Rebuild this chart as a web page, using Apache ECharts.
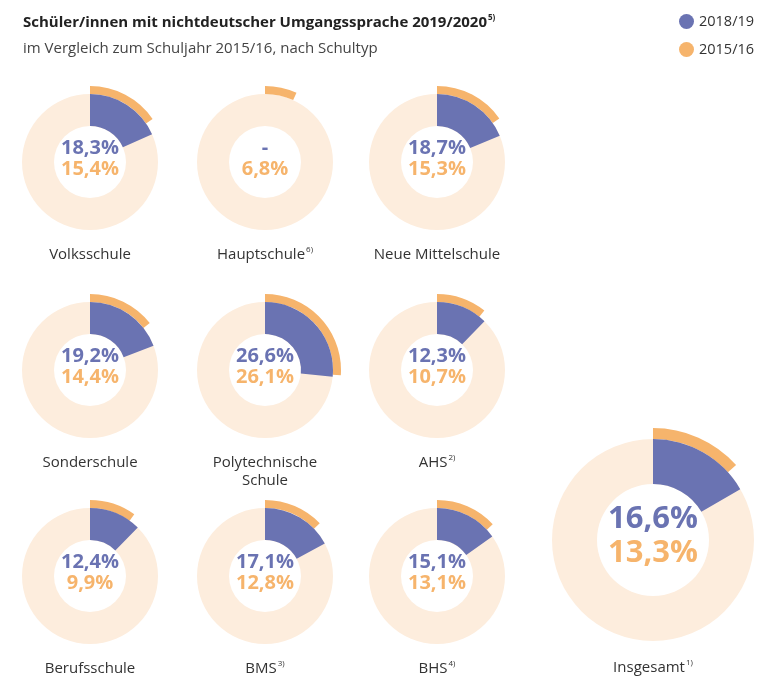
<!DOCTYPE html>
<html>
<head>
<meta charset="utf-8">
<script src="https://cdn.jsdelivr.net/npm/echarts@6/dist/echarts.min.js"></script>
<style>
html,body{margin:0;padding:0;background:#fff;}
#chart{width:760px;height:680px;}
</style>
</head>
<body>
<div id="chart"></div>
<script>
// ---- data ----
const categories = ['Volksschule', 'Hauptschule', 'Neue Mittelschule', 'Sonderschule', 'Polytechnische\nSchule', 'AHS', 'Berufsschule', 'BMS', 'BHS', 'Insgesamt'];
const footnotes = ['', '6)', '', '', '', '2)', '', '3)', '4)', '1)'];
const values2018 = [18.3, null, 18.7, 19.2, 26.6, 12.3, 12.4, 17.1, 15.1, 16.6];
const values2015 = [15.4, 6.8, 15.3, 14.4, 26.1, 10.7, 9.9, 12.8, 13.1, 13.3];
const seriesNames = ['2018/19', '2015/16'];
const titleText = 'Schüler/innen mit nichtdeutscher Umgangssprache 2019/2020';
const titleNote = '5)';
const subtitleText = 'im Vergleich zum Schuljahr 2015/16, nach Schultyp';

// ---- style / layout ----
const PURPLE = '#6A73B2';
const ORANGE = '#F6B46C';
const PEACH = '#FDEDDD';
const FONT = '"Open Sans", "Noto Sans", sans-serif';

const colX = [90, 265, 437];
const rowY = [162, 370, 576];
function layout(i) {
  if (i === 9) return { cx: 653, cy: 540, ri: 56, ro: 101, band: 11, fs: 31, lh: 34, big: true };
  return { cx: colX[i % 3], cy: rowY[Math.floor(i / 3)], ri: 36, ro: 68, band: 8, fs: 20, lh: 21, big: false };
}
function fmt(v) { return v == null ? '-' : v.toFixed(1).replace('.', ',') + '%'; }

const series = [];
const graphics = [];
categories.forEach((cat, i) => {
  const L = layout(i);
  const center = [L.cx, L.cy];
  // background ring with center label
  series.push({
    type: 'pie', silent: true, center, radius: [L.ri, L.ro], startAngle: 90,
    emphasis: { disabled: true },
    data: [{ value: 1, name: 'bg' + i, itemStyle: { color: PEACH } }],
    label: {
      show: true, position: 'center',
      formatter: '{a|' + fmt(values2018[i]) + '}\n{b|' + fmt(values2015[i]) + '}',
      rich: {
        a: { fontFamily: FONT, fontWeight: 'bold', fontSize: L.fs, color: PURPLE, lineHeight: L.lh },
        b: { fontFamily: FONT, fontWeight: 'bold', fontSize: L.fs, color: ORANGE, lineHeight: L.lh }
      },
      padding: [0, 0, L.big ? 8 : 6, 0]
    },
    labelLine: { show: false }
  });
  // 2015/16 outer band
  series.push({
    type: 'pie', silent: true, center, radius: [L.ro, L.ro + L.band], startAngle: 90,
    emphasis: { disabled: true }, label: { show: false }, labelLine: { show: false },
    data: [
      { value: values2015[i], name: seriesNames[1], itemStyle: { color: ORANGE } },
      { value: 100 - values2015[i], name: '', itemStyle: { color: 'rgba(0,0,0,0)' } }
    ]
  });
  // 2018/19 sector
  const v = values2018[i] == null ? 0 : values2018[i];
  series.push({
    type: 'pie', silent: true, center, radius: [L.ri, L.ro], startAngle: 90,
    emphasis: { disabled: true }, label: { show: false }, labelLine: { show: false },
    data: [
      { value: v, name: seriesNames[0], itemStyle: { color: PURPLE } },
      { value: 100 - v, name: '', itemStyle: { color: 'rgba(0,0,0,0)' } }
    ]
  });
  // category label
  const lines = cat.split('\n');
  const txt = lines.map((l, k) => k === lines.length - 1 && footnotes[i] ? '{t|' + l + '}{s|' + footnotes[i] + '}' : '{t|' + l + '}').join('\n');
  graphics.push({
    type: 'text', silent: true,
    x: L.cx, y: L.cy + (L.big ? 119 : 84),
    style: {
      text: txt, align: 'center', verticalAlign: 'top',
      rich: {
        t: { fontFamily: FONT, fontSize: 15, fill: '#333', lineHeight: 18 },
        s: { fontFamily: FONT, fontSize: 8, fill: '#333', lineHeight: 18, verticalAlign: 'top', padding: [0, 0, 0, 1] }
      }
    }
  });
});

const chart = echarts.init(document.getElementById('chart'), null, { renderer: 'canvas' });
chart.setOption({
  backgroundColor: '#fff',
  animation: false,
  title: [{
    text: '{t|' + titleText + '}{s|' + titleNote + '}',
    left: 18, top: 9,
    textStyle: {
      rich: {
        t: { fontFamily: FONT, fontWeight: 'bold', fontSize: 15, color: '#222', lineHeight: 18 },
        s: { fontFamily: FONT, fontWeight: 'bold', fontSize: 8, color: '#222', lineHeight: 18, verticalAlign: 'top', padding: [0, 0, 0, 1] }
      }
    }
  }, {
    text: subtitleText, left: 18, top: 36,
    textStyle: { fontFamily: FONT, fontWeight: 'normal', fontSize: 15, color: '#444' }
  }],
  legend: {
    data: [{ name: seriesNames[0], icon: 'circle' }, { name: seriesNames[1], icon: 'circle' }],
    orient: 'vertical', left: 674, top: 9,
    itemWidth: 15, itemHeight: 15, itemGap: 13,
    selectedMode: false,
    textStyle: { fontFamily: FONT, fontSize: 14.5, color: '#333' }
  },
  series,
  graphic: graphics
});
</script>
</body>
</html>
